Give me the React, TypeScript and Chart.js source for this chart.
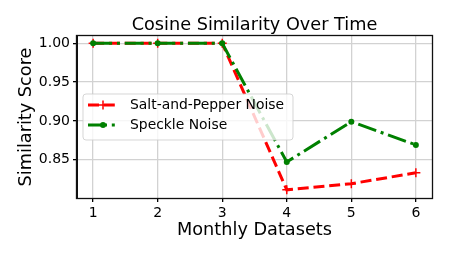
import React, { useEffect, useRef } from "react";
import { Chart, registerables } from "chart.js";

Chart.register(...registerables);

const xValues = [1, 2, 3, 4, 5, 6];
const saltPepper = [1.0, 1.0, 1.0, 0.811, 0.819, 0.833];
const speckle = [1.0, 1.0, 1.0, 0.847, 0.899, 0.869];
const yTicks = [0.85, 0.9, 0.95, 1.0];
const seriesNames = ["Salt-and-Pepper Noise", "Speckle Noise"];
const titleText = "Cosine Similarity Over Time";
const xTitle = "Monthly Datasets";
const yTitle = "Similarity Score";

const FONT = "'DejaVu Sans', sans-serif";
const RED = "#ff0000";
const GREEN = "#008000";
const RED_DASH = [11, 4.8];
const GREEN_DASH = [19, 4.8, 3, 4.8];
const GRID = "#d2d2d2";

const decorPlugin = {
  id: "decor",
  afterDraw(chart: any) {
    const { ctx, chartArea } = chart;
    const { left, right, top, bottom } = chartArea;
    ctx.save();
    // frame
    ctx.strokeStyle = "#111";
    ctx.lineWidth = 1.3;
    ctx.setLineDash([]);
    ctx.strokeRect(left - 0.5, top - 0.5, right - left + 1, bottom - top + 1);

    // title and axis titles
    ctx.fillStyle = "#000";
    ctx.font = `17.7px ${FONT}`;
    ctx.textAlign = "center";
    ctx.textBaseline = "middle";
    ctx.fillText(titleText, (left + right) / 2, 25);
    ctx.fillText(xTitle, (left + right) / 2, 230);
    ctx.save();
    ctx.translate(26, (top + bottom) / 2);
    ctx.rotate(-Math.PI / 2);
    ctx.fillText(yTitle, 0, 0);
    ctx.restore();

    // legend
    const lx = 83, ly = 94, lw = 210, lh = 46, r = 3;
    ctx.beginPath();
    ctx.moveTo(lx + r, ly);
    ctx.lineTo(lx + lw - r, ly);
    ctx.quadraticCurveTo(lx + lw, ly, lx + lw, ly + r);
    ctx.lineTo(lx + lw, ly + lh - r);
    ctx.quadraticCurveTo(lx + lw, ly + lh, lx + lw - r, ly + lh);
    ctx.lineTo(lx + r, ly + lh);
    ctx.quadraticCurveTo(lx, ly + lh, lx, ly + lh - r);
    ctx.lineTo(lx, ly + r);
    ctx.quadraticCurveTo(lx, ly, lx + r, ly);
    ctx.closePath();
    ctx.fillStyle = "rgba(255,255,255,0.8)";
    ctx.fill();
    ctx.strokeStyle = "rgba(204,204,204,0.8)";
    ctx.lineWidth = 1;
    ctx.stroke();

    const rows = [
      { y: 105, color: RED, dash: RED_DASH, marker: "cross", name: seriesNames[0] },
      { y: 125, color: GREEN, dash: GREEN_DASH, marker: "circle", name: seriesNames[1] },
    ];
    rows.forEach((row) => {
      ctx.strokeStyle = row.color;
      ctx.lineWidth = 3;
      ctx.setLineDash(row.dash);
      ctx.beginPath();
      ctx.moveTo(88, row.y);
      ctx.lineTo(118, row.y);
      ctx.stroke();
      ctx.setLineDash([]);
      if (row.marker === "cross") {
        ctx.lineWidth = 1.5;
        ctx.beginPath();
        ctx.moveTo(103 - 4.5, row.y);
        ctx.lineTo(103 + 4.5, row.y);
        ctx.moveTo(103, row.y - 4.5);
        ctx.lineTo(103, row.y + 4.5);
        ctx.stroke();
      } else {
        ctx.fillStyle = row.color;
        ctx.beginPath();
        ctx.arc(103, row.y, 3, 0, Math.PI * 2);
        ctx.fill();
      }
      ctx.fillStyle = "#000";
      ctx.font = `13.9px ${FONT}`;
      ctx.textAlign = "left";
      ctx.textBaseline = "middle";
      ctx.fillText(row.name, 130, row.y);
    });
    ctx.restore();
  },
};

export default function App() {
  const ref = useRef<HTMLCanvasElement | null>(null);
  useEffect(() => {
    if (!ref.current) return;
    const chart = new Chart(ref.current, {
      type: "line",
      data: {
        datasets: [
          {
            label: seriesNames[0],
            data: xValues.map((x, i) => ({ x, y: saltPepper[i] })),
            borderColor: RED,
            backgroundColor: RED,
            borderWidth: 3,
            borderDash: RED_DASH,
            pointStyle: "cross",
            pointRadius: 4.5,
            pointBorderWidth: 1.5,
            pointBorderColor: RED,
            tension: 0,
            order: 1,
            clip: false as any,
          },
          {
            label: seriesNames[1],
            data: xValues.map((x, i) => ({ x, y: speckle[i] })),
            borderColor: GREEN,
            backgroundColor: GREEN,
            borderWidth: 3,
            borderDash: GREEN_DASH,
            pointStyle: "circle",
            pointRadius: 3,
            pointBorderWidth: 0,
            pointBackgroundColor: GREEN,
            tension: 0,
            order: 0,
            clip: false as any,
          },
        ],
      },
      options: {
        animation: false,
        responsive: false,
        devicePixelRatio: 1,
        layout: { padding: { top: 36, right: 17, left: 0, bottom: 0 } },
        plugins: { legend: { display: false }, tooltip: { enabled: false }, title: { display: false } },
        scales: {
          x: {
            type: "linear",
            min: 0.75,
            max: 6.25,
            afterBuildTicks: (scale: any) => {
              scale.ticks = xValues.map((v) => ({ value: v }));
            },
            afterFit: (scale: any) => {
              scale.height = 58;
            },
            ticks: {
              font: { family: "DejaVu Sans", size: 14 },
              color: "#000",
              maxRotation: 0,
              autoSkip: false,
              padding: 3,
              callback: (v: any) => String(v),
            },
            grid: { color: GRID, lineWidth: 1.3, tickColor: "#000", tickLength: 4 },
            border: { display: true, color: "#111" },
          },
          y: {
            type: "linear",
            min: 0.8005,
            max: 1.0095,
            afterBuildTicks: (scale: any) => {
              scale.ticks = yTicks.map((v) => ({ value: v }));
            },
            afterFit: (scale: any) => {
              scale.width = 77;
            },
            ticks: {
              font: { family: "DejaVu Sans", size: 14 },
              color: "#000",
              padding: 3,
              callback: (v: any) => Number(v).toFixed(2),
            },
            grid: { color: GRID, lineWidth: 1.3, tickColor: "#000", tickLength: 4 },
            border: { display: true, color: "#111" },
          },
        },
      },
      plugins: [decorPlugin],
    } as any);
    return () => chart.destroy();
  }, []);
  return (
    <div style={{ position: "absolute", left: 0, top: 0, width: 449, height: 256, background: "#fff" }}>
      <canvas ref={ref} width={449} height={256} style={{ width: 449, height: 256 }} />
    </div>
  );
}
